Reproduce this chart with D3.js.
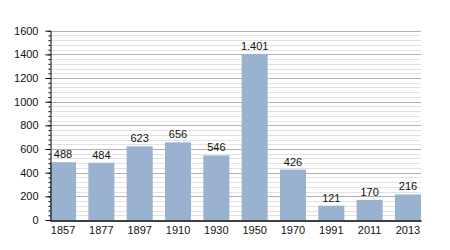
<!DOCTYPE html>
<html lang="en">
<head>
<meta charset="UTF-8" />
<title>Population</title>
<script src="https://cdn.jsdelivr.net/npm/d3@7"></script>
<style>
    body { margin: 0; background: #fff; overflow: hidden; }
    svg text { font-family: 'Liberation Sans', Arial, sans-serif; font-size: 11px; fill: #111; }
</style>
</head>
<body>
<div id="container"></div>
<script>
    const years = ['1857', '1877', '1897', '1910', '1930', '1950', '1970', '1991', '2011', '2013']
    const population = [488, 484, 623, 656, 546, 1401, 426, 121, 170, 216]
    const valueLabels = ['488', '484', '623', '656', '546', '1.401', '426', '121', '170', '216']
    const yTicks = [0, 200, 400, 600, 800, 1000, 1200, 1400, 1600]

    const width = 450
    const height = 250
    const plotLeft = 50
    const plotRight = 421
    const plotTop = 30.7
    const plotBottom = 220

    const svg = d3.select('#container').append('svg').attr('width', width).attr('height', height)

    const x = d3.scaleBand().domain(years).range([plotLeft, plotRight]).paddingInner(0.32).paddingOuter(0)
    const y = d3.scaleLinear().domain([0, 1600]).range([plotBottom, plotTop])

    // minor grid every 40
    const minor = d3.range(40, 1600, 40).filter((v) => v % 200 !== 0)
    svg.append('g')
        .selectAll('line')
        .data(minor)
        .enter()
        .append('line')
        .attr('x1', plotLeft)
        .attr('x2', plotRight)
        .attr('y1', (d) => Math.round(y(d)) + 0.5)
        .attr('y2', (d) => Math.round(y(d)) + 0.5)
        .attr('stroke', '#e2e2e2')

    svg.append('g')
        .selectAll('line')
        .data(yTicks.slice(1))
        .enter()
        .append('line')
        .attr('x1', plotLeft)
        .attr('x2', plotRight)
        .attr('y1', (d) => Math.round(y(d)) + 0.5)
        .attr('y2', (d) => Math.round(y(d)) + 0.5)
        .attr('stroke', '#b0b0b0')

    // bars
    svg.append('g')
        .selectAll('rect')
        .data(population)
        .enter()
        .append('rect')
        .attr('x', (d, i) => x(years[i]))
        .attr('width', x.bandwidth())
        .attr('y', (d) => y(d))
        .attr('height', (d) => y(0) - y(d))
        .attr('fill', '#98b2cf')

    // value labels
    svg.append('g')
        .selectAll('text')
        .data(population)
        .enter()
        .append('text')
        .attr('x', (d, i) => x(years[i]) + x.bandwidth() / 2)
        .attr('y', (d) => y(d) - 4)
        .attr('text-anchor', 'middle')
        .text((d, i) => valueLabels[i])

    // y axis with minor ticks
    svg.append('g')
        .attr('transform', `translate(${plotLeft + 0.5},0)`)
        .call(d3.axisLeft(y).tickValues(d3.range(0, 1601, 40)).tickSize(2).tickFormat(''))
        .call((g) => g.select('.domain').remove())
        .selectAll('line')
        .attr('stroke', '#000')

    const yAxis = svg.append('g')
        .attr('transform', `translate(${plotLeft + 0.5},0)`)
        .call(d3.axisLeft(y).tickValues(yTicks).tickFormat(d3.format('d')).tickSize(5).tickPadding(7).tickSizeOuter(0))
    yAxis.select('.domain').attr('stroke', '#000')
    yAxis.selectAll('text').style('font-family', "'Liberation Sans', Arial, sans-serif").style('font-size', '11px').attr('fill', '#111')

    // x axis
    const xAxis = svg.append('g')
        .attr('transform', `translate(0,${plotBottom + 0.5})`)
        .call(d3.axisBottom(x).tickSize(0).tickPadding(6).tickSizeOuter(0))
    xAxis.select('.domain').attr('stroke', '#000').attr('stroke-width', 1.5)
    xAxis.selectAll('text').style('font-family', "'Liberation Sans', Arial, sans-serif").style('font-size', '11px').attr('fill', '#111')
</script>
</body>
</html>
